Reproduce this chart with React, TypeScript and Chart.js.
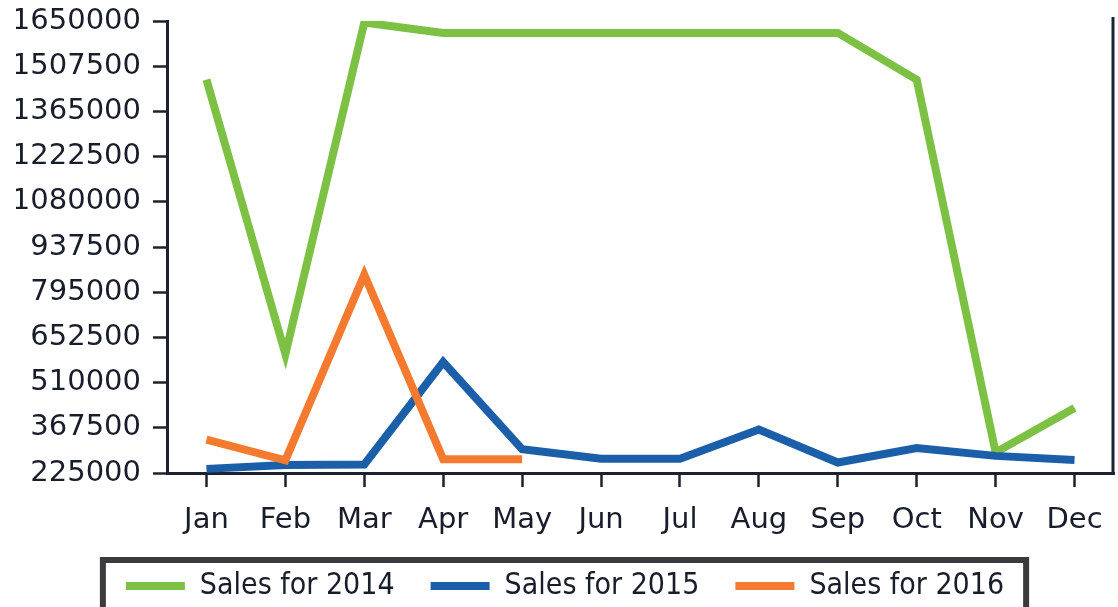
import React, { useEffect, useRef } from "react";
import { Chart, registerables } from "chart.js";

Chart.register(...registerables);

const months = ["Jan", "Feb", "Mar", "Apr", "May", "Jun", "Jul", "Aug", "Sep", "Oct", "Nov", "Dec"];
const sales2014 = [1465000, 600000, 1645000, 1612500, 1612500, 1612500, 1612500, 1612500, 1612500, 1465000, 290000, 430000];
const sales2015 = [238000, 250000, 252000, 575000, 300000, 270000, 270000, 362000, 258000, 304000, 279000, 266000];
const sales2016 = [330000, 265000, 850000, 268000, 268000];
const seriesNames = ["Sales for 2014", "Sales for 2015", "Sales for 2016"];
const seriesColors = ["#7cc144", "#1c5fa9", "#f47a2f"];
const yMin = 225000;
const yMax = 1650000;
const yStep = 142500;

const AXIS = "#1d2230";
const TEXT = "#181d2b";

const framePlugin = {
  id: "frames",
  afterDraw(chart: any) {
    const { ctx, chartArea } = chart;
    ctx.save();
    // right border
    ctx.strokeStyle = AXIS;
    ctx.lineWidth = 3;
    ctx.beginPath();
    ctx.moveTo(chartArea.right - 1, chartArea.top - 4);
    ctx.lineTo(chartArea.right - 1, chartArea.bottom);
    ctx.stroke();
    // legend frame
    const boxes = chart.legend && chart.legend.legendHitBoxes;
    if (boxes && boxes.length) {
      const first = boxes[0];
      const last = boxes[boxes.length - 1];
      const cy = first.top + first.height / 2;
      const left = first.left - 23;
      const right = last.left + last.width + 22;
      const top = cy - 26;
      const bottom = chart.height + 20;
      ctx.strokeStyle = "#3b3b3d";
      ctx.lineWidth = 6;
      ctx.strokeRect(left, top, right - left, bottom - top);
    }
    ctx.restore();
  },
};

export default function App() {
  const ref = useRef<HTMLCanvasElement | null>(null);
  useEffect(() => {
    if (!ref.current) return;
    const data = [sales2014, sales2015, sales2016];
    const chart = new Chart(ref.current, {
      type: "line",
      data: {
        labels: months,
        datasets: data.map((d, i) => ({
          label: seriesNames[i],
          data: d,
          borderColor: seriesColors[i],
          backgroundColor: seriesColors[i],
          borderWidth: 8,
          pointRadius: 0,
          pointHoverRadius: 0,
          tension: 0,
          fill: false,
          order: 3 - i,
        })),
      },
      options: {
        responsive: false,
        animation: false,
        layout: { padding: { top: 21, right: 4, left: 16, bottom: -4 } },
        plugins: {
          tooltip: { enabled: false },
          legend: {
            position: "bottom",
            labels: {
              boxWidth: 59,
              boxHeight: 8,
              padding: 36,
              color: TEXT,
              font: { family: "'DejaVu Sans Condensed', 'Liberation Sans Narrow', 'DejaVu Sans'", size: 30 },
              sort: (a: any, b: any) => a.datasetIndex - b.datasetIndex,
              generateLabels: (c: any) =>
                Chart.defaults.plugins.legend.labels.generateLabels(c).map((l: any) => ({ ...l, lineWidth: 0 })),
            },
          },
        },
        scales: {
          x: {
            offset: true,
            afterFit: (s: any) => {
              s.height = 62;
              s.paddingLeft = 0;
              s.paddingRight = 0;
            },
            grid: {
              display: true,
              drawOnChartArea: false,
              drawTicks: true,
              tickLength: 14,
              tickWidth: 2.5,
              tickColor: AXIS,
              offset: false,
            },
            border: { display: true, color: AXIS, width: 3 },
            ticks: {
              color: TEXT,
              padding: 16,
              maxRotation: 0,
              font: { family: "'DejaVu Sans'", size: 29 },
            },
          },
          y: {
            min: yMin,
            max: yMax,
            afterFit: (s: any) => {
              s.width = 151;
              s.paddingTop = 0;
              s.paddingBottom = 0;
            },
            grid: {
              display: true,
              drawOnChartArea: false,
              drawTicks: true,
              tickLength: 14,
              tickWidth: 2.5,
              tickColor: AXIS,
            },
            border: { display: true, color: AXIS, width: 3 },
            ticks: {
              stepSize: yStep,
              color: TEXT,
              padding: 12,
              font: { family: "'DejaVu Sans'", size: 29 },
              callback: (v: any) => String(v),
            },
          },
        },
      },
      plugins: [framePlugin],
    });
    return () => chart.destroy();
  }, []);
  return (
    <div style={{ position: "absolute", left: 0, top: 0, width: 1118, height: 607, background: "#fff", overflow: "hidden" }}>
      <canvas ref={ref} width={1118} height={607} />
    </div>
  );
}
